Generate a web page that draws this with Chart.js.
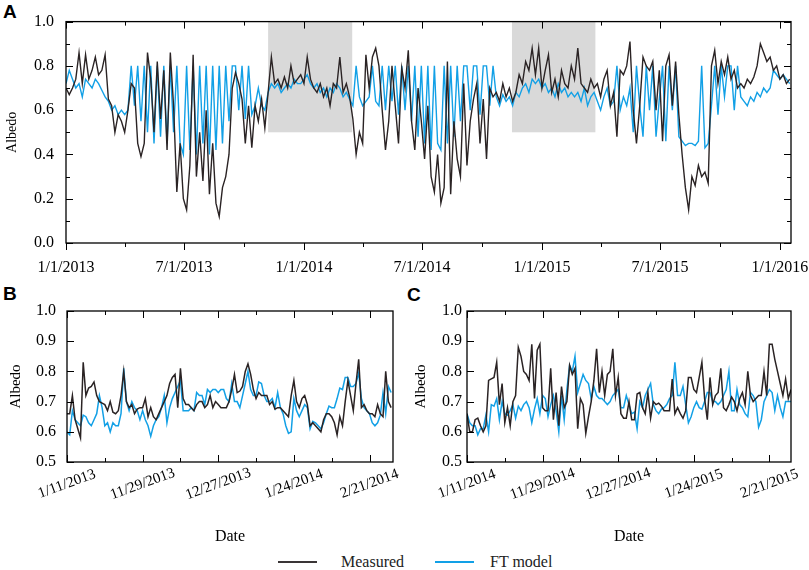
<!DOCTYPE html>
<html lang="en">
<head>
<meta charset="UTF-8">
<title>Albedo: measured vs FT model</title>
<script src="https://cdn.jsdelivr.net/npm/chart.js@4"></script>
<style>
  body { margin: 0; background: #fff; width: 809px; height: 570px; position: relative; overflow: hidden; font-family: "Liberation Serif", serif; }
  canvas { position: absolute; }
  .tag { position: absolute; font: bold 19px "Liberation Sans", Arial, sans-serif; color: #000; line-height: 19px; }
  .key { position: absolute; height: 2px; top: 561px; width: 39px; }
  .keytext { position: absolute; top: 552px; font-size: 16px; line-height: 20px; color: #222; }
</style>
</head>
<body>
<div class="tag" style="left:3px;top:2px">A</div>
<div class="tag" style="left:3px;top:284px">B</div>
<div class="tag" style="left:407px;top:285px">C</div>
<canvas id="chartA" width="809" height="280" style="left:0;top:0"></canvas>
<canvas id="chartB" width="405" height="270" style="left:0;top:280px"></canvas>
<canvas id="chartC" width="404" height="270" style="left:405px;top:280px"></canvas>
<div class="key" style="left:278px;background:#3a3536"></div>
<div class="keytext" style="left:341px">Measured</div>
<div class="key" style="left:435px;background:#12a0e6"></div>
<div class="keytext" style="left:490px">FT model</div>
<script>
// panel A: one value every 5 days from 1/1/2013
const stepA = 5
const measuredA = [
  0.70,0.67,0.70,0.74,0.86,0.72,0.85,0.74,0.78,0.84,0.76,0.78,
  0.85,0.65,0.62,0.50,0.58,0.55,0.50,0.60,0.72,0.70,0.45,0.39,
  0.45,0.86,0.74,0.50,0.82,0.56,0.78,0.42,0.86,0.62,0.23,0.45,
  0.20,0.15,0.35,0.85,0.30,0.50,0.28,0.60,0.22,0.45,0.18,0.12,
  0.25,0.30,0.40,0.70,0.77,0.72,0.65,0.45,0.62,0.43,0.62,0.55,
  0.65,0.52,0.68,0.84,0.72,0.74,0.70,0.75,0.70,0.80,0.72,0.74,
  0.76,0.72,0.84,0.74,0.70,0.68,0.72,0.66,0.70,0.62,0.72,0.70,
  0.84,0.68,0.72,0.66,0.56,0.40,0.50,0.45,0.85,0.70,0.84,0.88,
  0.80,0.60,0.42,0.55,0.80,0.62,0.45,0.79,0.70,0.87,0.55,0.42,
  0.70,0.55,0.38,0.62,0.30,0.23,0.40,0.18,0.25,0.82,0.22,0.55,
  0.38,0.30,0.72,0.35,0.55,0.65,0.72,0.45,0.65,0.38,0.70,0.66,
  0.68,0.64,0.72,0.66,0.70,0.64,0.68,0.76,0.72,0.82,0.78,0.88,
  0.76,0.88,0.70,0.78,0.85,0.68,0.74,0.66,0.78,0.72,0.70,0.80,
  0.74,0.88,0.72,0.70,0.68,0.74,0.70,0.72,0.66,0.74,0.78,0.62,
  0.68,0.48,0.78,0.76,0.80,0.91,0.60,0.45,0.62,0.84,0.80,0.78,
  0.82,0.60,0.78,0.46,0.80,0.85,0.62,0.82,0.58,0.40,0.25,0.15,
  0.30,0.26,0.35,0.30,0.32,0.27,0.80,0.87,0.72,0.82,0.76,0.84,
  0.74,0.78,0.70,0.72,0.70,0.74,0.72,0.75,0.80,0.90,0.86,0.82,
  0.84,0.78,0.80,0.74,0.76,0.72,0.74
]
const modelA = [
  0.72,0.78,0.74,0.70,0.72,0.66,0.74,0.72,0.70,0.74,0.72,0.69,
  0.66,0.64,0.60,0.62,0.58,0.60,0.58,0.60,0.80,0.62,0.80,0.55,
  0.80,0.50,0.80,0.45,0.80,0.48,0.80,0.45,0.80,0.50,0.80,0.45,
  0.40,0.80,0.42,0.80,0.40,0.80,0.45,0.80,0.40,0.80,0.42,0.80,
  0.45,0.80,0.55,0.80,0.80,0.60,0.80,0.56,0.80,0.58,0.62,0.70,
  0.62,0.60,0.68,0.72,0.70,0.72,0.68,0.70,0.72,0.70,0.74,0.72,
  0.72,0.74,0.76,0.72,0.70,0.72,0.68,0.70,0.66,0.70,0.68,0.72,
  0.70,0.66,0.68,0.65,0.62,0.80,0.66,0.62,0.64,0.66,0.80,0.64,
  0.62,0.80,0.60,0.80,0.64,0.80,0.58,0.80,0.60,0.80,0.55,0.80,
  0.48,0.80,0.45,0.80,0.42,0.80,0.45,0.42,0.80,0.45,0.80,0.48,
  0.80,0.55,0.80,0.80,0.60,0.80,0.80,0.58,0.80,0.80,0.62,0.80,
  0.66,0.62,0.67,0.64,0.66,0.62,0.68,0.66,0.70,0.72,0.68,0.74,
  0.72,0.74,0.70,0.72,0.68,0.70,0.66,0.72,0.68,0.70,0.66,0.68,
  0.66,0.68,0.64,0.70,0.62,0.66,0.68,0.64,0.60,0.66,0.70,0.62,
  0.64,0.80,0.60,0.66,0.62,0.70,0.50,0.80,0.62,0.48,0.80,0.60,
  0.80,0.48,0.65,0.80,0.46,0.80,0.60,0.80,0.48,0.46,0.44,0.45,
  0.45,0.44,0.46,0.80,0.43,0.45,0.62,0.80,0.58,0.80,0.66,0.80,
  0.80,0.60,0.80,0.66,0.64,0.62,0.66,0.64,0.68,0.66,0.70,0.68,
  0.70,0.78,0.76,0.74,0.76,0.74,0.72
]
// days since 1/1/2013
const ticksA = [0, 181, 365, 546, 730, 911, 1095]
const tickLabelsA = ['1/1/2013', '7/1/2013', '1/1/2014', '7/1/2014', '1/1/2015', '7/1/2015', '1/1/2016']
const minorA = [90, 273, 455, 638, 820, 1003]
const shadeA = [[310, 439], [684, 812]]

// panels B and C: daily values, day 0 = 11/1
const measuredB = [
  0.66,0.66,0.72,0.64,0.61,0.58,0.83,0.72,0.745,0.75,
  0.765,0.72,0.70,0.695,0.69,0.67,0.70,0.665,0.66,0.67,
  0.72,0.80,0.70,0.68,0.69,0.66,0.675,0.68,0.68,0.71,
  0.65,0.68,0.65,0.64,0.66,0.68,0.70,0.72,0.76,0.78,
  0.79,0.68,0.81,0.71,0.69,0.69,0.68,0.67,0.69,0.70,
  0.70,0.68,0.69,0.72,0.68,0.70,0.69,0.68,0.68,0.68,
  0.70,0.74,0.79,0.73,0.735,0.75,0.80,0.825,0.79,0.74,
  0.71,0.73,0.72,0.72,0.72,0.69,0.70,0.675,0.68,0.68,
  0.67,0.66,0.65,0.72,0.77,0.70,0.68,0.71,0.72,0.69,
  0.62,0.63,0.62,0.61,0.60,0.64,0.66,0.66,0.65,0.63,
  0.59,0.65,0.62,0.70,0.77,0.72,0.67,0.76,0.84,0.68,
  0.69,0.67,0.66,0.66,0.65,0.69,0.66,0.65,0.80,0.70,
  0.68
]
const modelB = [
  0.60,0.59,0.67,0.64,0.63,0.62,0.655,0.65,0.63,0.62,
  0.64,0.66,0.72,0.68,0.62,0.63,0.60,0.63,0.62,0.62,
  0.66,0.81,0.70,0.67,0.70,0.68,0.67,0.64,0.67,0.64,
  0.62,0.585,0.62,0.64,0.65,0.68,0.72,0.63,0.68,0.71,
  0.73,0.75,0.77,0.67,0.67,0.67,0.68,0.67,0.73,0.72,
  0.72,0.69,0.74,0.73,0.74,0.74,0.73,0.74,0.74,0.71,
  0.70,0.76,0.70,0.70,0.68,0.72,0.76,0.80,0.74,0.72,
  0.72,0.765,0.76,0.72,0.70,0.70,0.71,0.68,0.73,0.68,
  0.66,0.62,0.595,0.60,0.71,0.67,0.65,0.67,0.69,0.68,
  0.61,0.635,0.63,0.62,0.61,0.63,0.66,0.685,0.68,0.68,
  0.71,0.745,0.74,0.78,0.78,0.75,0.75,0.76,0.795,0.71,
  0.68,0.67,0.66,0.63,0.62,0.63,0.655,0.73,0.66,0.75,
  0.73
]
const measuredC = [
  0.66,0.60,0.60,0.64,0.645,0.62,0.60,0.62,0.77,0.775,
  0.78,0.83,0.69,0.76,0.63,0.68,0.62,0.70,0.72,0.88,
  0.85,0.80,0.79,0.77,0.89,0.71,0.87,0.89,0.68,0.67,
  0.67,0.81,0.64,0.73,0.62,0.75,0.68,0.70,0.82,0.79,
  0.81,0.61,0.71,0.69,0.595,0.65,0.70,0.77,0.875,0.73,
  0.80,0.72,0.79,0.80,0.875,0.72,0.78,0.66,0.645,0.645,
  0.70,0.64,0.64,0.725,0.73,0.68,0.66,0.73,0.645,0.70,
  0.69,0.695,0.685,0.67,0.67,0.67,0.775,0.66,0.68,0.66,
  0.645,0.67,0.78,0.78,0.74,0.73,0.78,0.83,0.71,0.64,
  0.78,0.69,0.72,0.73,0.81,0.68,0.67,0.69,0.715,0.70,
  0.67,0.71,0.73,0.69,0.80,0.72,0.70,0.71,0.72,0.72,
  0.80,0.72,0.89,0.89,0.84,0.80,0.76,0.72,0.775,0.71,
  0.74
]
const modelC = [
  0.66,0.63,0.62,0.62,0.59,0.61,0.61,0.655,0.60,0.69,
  0.685,0.71,0.64,0.70,0.66,0.655,0.67,0.69,0.645,0.685,
  0.67,0.69,0.70,0.68,0.63,0.675,0.71,0.66,0.72,0.71,
  0.65,0.69,0.72,0.67,0.60,0.72,0.64,0.74,0.82,0.80,
  0.85,0.73,0.76,0.79,0.77,0.76,0.71,0.75,0.72,0.71,
  0.71,0.70,0.69,0.70,0.72,0.73,0.74,0.68,0.68,0.72,
  0.69,0.66,0.665,0.61,0.70,0.68,0.72,0.74,0.76,0.69,
  0.67,0.66,0.675,0.68,0.69,0.71,0.72,0.83,0.72,0.72,
  0.75,0.69,0.63,0.65,0.68,0.70,0.68,0.675,0.70,0.73,
  0.73,0.70,0.70,0.69,0.70,0.72,0.74,0.80,0.67,0.67,
  0.74,0.69,0.68,0.66,0.65,0.73,0.72,0.70,0.615,0.64,
  0.70,0.72,0.74,0.73,0.67,0.72,0.68,0.65,0.70,0.70,
  0.70
]
const ticksBC = [0, 28, 56, 84, 112]
const minorBC = [14, 42, 70, 98]
const tickLabelsB = ['1/11/2013', '11/29/2013', '12/27/2013', '1/24/2014', '2/21/2014']
const tickLabelsC = ['1/11/2014', '11/29/2014', '12/27/2014', '1/24/2015', '2/21/2015']

const yTicksA = [0, 0.2, 0.4, 0.6, 0.8, 1.0]
const yMinorA = [0.1, 0.3, 0.5, 0.7, 0.9]
const yTicksBC = [0.5, 0.6, 0.7, 0.8, 0.9, 1.0]

const BLACK = '#2a2324'
const BLUE = '#12a0e6'
const SERIF = '"Liberation Serif", "Times New Roman", serif'

// box, inward/outward ticks, shading and date labels
const frame = {
  id: 'frame',
  beforeDatasetsDraw(chart, args, o) {
    const {ctx, scales: {x, y}} = chart
    ctx.save()
    ctx.fillStyle = '#d9d9d9'
    ;(o.shade || []).forEach(([d0, d1]) => {
      const x0 = x.getPixelForValue(d0), x1 = x.getPixelForValue(d1)
      const y0 = y.getPixelForValue(1), y1 = y.getPixelForValue(0.5)
      ctx.fillRect(x0, y0, x1 - x0, y1 - y0)
    })
    ctx.restore()
  },
  afterDraw(chart, args, o) {
    const {ctx, chartArea: a, scales: {x, y}} = chart
    ctx.save()
    ctx.strokeStyle = '#000'
    ctx.lineWidth = 1.3
    ctx.strokeRect(a.left, a.top, a.right - a.left, a.bottom - a.top)
    ctx.lineWidth = 1
    ctx.beginPath()
    const xt = (v, len) => {
      const px = Math.round(x.getPixelForValue(v)) + 0.5
      const dir = o.outward ? 1 : -1
      ctx.moveTo(px, a.bottom); ctx.lineTo(px, a.bottom + dir * len)
      ctx.moveTo(px, a.top); ctx.lineTo(px, a.top + len)
    }
    const yt = (v, len) => {
      const py = Math.round(y.getPixelForValue(v)) + 0.5
      ctx.moveTo(a.left, py); ctx.lineTo(a.left + len, py)
      if (o.rightTicks) { ctx.moveTo(a.right, py); ctx.lineTo(a.right - len, py) }
    }
    o.major.forEach(v => xt(v, 7))
    o.minor.forEach(v => xt(v, 4))
    o.yMajor.forEach(v => yt(v, 7))
    ;(o.yMinor || []).forEach(v => yt(v, 4))
    ctx.stroke()

    ctx.fillStyle = '#000'
    ctx.font = o.labelFont
    ctx.textAlign = 'center'
    ctx.textBaseline = 'middle'
    o.major.forEach((v, i) => {
      ctx.save()
      ctx.translate(x.getPixelForValue(v), a.bottom + o.labelGap)
      ctx.rotate(-o.rotate * Math.PI / 180)
      ctx.fillText(o.labels[i], 0, 0)
      ctx.restore()
    })
    ctx.restore()
  }
}

const pts = (arr, step) => arr.map((v, i) => ({x: i * step, y: v}))

function makeChart(id, cfg) {
  return new Chart(document.getElementById(id), {
    type: 'line',
    data: {
      datasets: [
        {label: 'Measured', data: pts(cfg.measured, cfg.step), borderColor: BLACK, borderWidth: cfg.lw},
        {label: 'FT model', data: pts(cfg.model, cfg.step), borderColor: BLUE, borderWidth: cfg.lw}
      ]
    },
    options: {
      responsive: false,
      animation: false,
      layout: {padding: {left: 0, right: cfg.padRight, top: cfg.padTop, bottom: 0}},
      elements: {point: {radius: 0}, line: {tension: 0}},
      plugins: {
        legend: {display: false},
        tooltip: {enabled: false},
        frame: cfg.frame
      },
      scales: {
        x: {
          type: 'linear', min: 0, max: cfg.xMax,
          ticks: {display: false},
          grid: {display: false},
          border: {display: false},
          title: cfg.xTitle ? {display: true, text: cfg.xTitle, color: '#000', font: {family: SERIF, size: 16}, padding: {top: 0, bottom: 4}} : {display: false},
          afterFit: s => { s.height = cfg.xHeight }
        },
        y: {
          min: cfg.yMin, max: 1,
          afterBuildTicks: s => { s.ticks = cfg.yTicks.map(v => ({value: v})) },
          ticks: {color: '#000', font: {family: SERIF, size: 16}, padding: cfg.yPad, callback: v => v.toFixed(1)},
          grid: {display: false, drawTicks: false},
          border: {display: false},
          title: {display: true, text: 'Albedo', color: '#000', font: {family: SERIF, size: cfg.yTitleSize}, padding: {top: cfg.yTitlePad, bottom: 0}},
          afterFit: s => { s.width = cfg.yWidth }
        }
      }
    },
    plugins: [frame]
  })
}

function drawAll() {
  makeChart('chartA', {
    measured: measuredA, model: modelA, step: stepA, lw: 1.4,
    xMax: 1112, yMin: 0, yTicks: yTicksA,
    padRight: 18, padTop: 16, xHeight: 37, yWidth: 66, yPad: 12,
    yTitleSize: 14, yTitlePad: 4,
    frame: {shade: shadeA, major: ticksA, minor: minorA, labels: tickLabelsA, outward: true,
            yMajor: yTicksA, yMinor: yMinorA, rightTicks: true, rotate: 0, labelGap: 25,
            labelFont: '16px ' + SERIF}
  })
  makeChart('chartB', {
    measured: measuredB, model: modelB, step: 1, lw: 1.5,
    xMax: 120.7, yMin: 0.5, yTicks: yTicksBC, xTitle: 'Date',
    padRight: 12, padTop: 31, xHeight: 88, yWidth: 67, yPad: 11,
    yTitleSize: 15, yTitlePad: 7,
    frame: {major: ticksBC, minor: minorBC, labels: tickLabelsB, outward: false,
            yMajor: yTicksBC, rightTicks: false, rotate: 20, labelGap: 22,
            labelFont: '15px ' + SERIF}
  })
  makeChart('chartC', {
    measured: measuredC, model: modelC, step: 1, lw: 1.5,
    xMax: 120, yMin: 0.5, yTicks: yTicksBC, xTitle: 'Date',
    padRight: 18, padTop: 31, xHeight: 88, yWidth: 62, yPad: 5,
    yTitleSize: 15, yTitlePad: 7,
    frame: {major: ticksBC, minor: minorBC, labels: tickLabelsC, outward: false,
            yMajor: yTicksBC, rightTicks: false, rotate: 20, labelGap: 22,
            labelFont: '15px ' + SERIF}
  })
}

// canvas text needs the serif face loaded first
document.fonts.load('16px "Liberation Serif"').then(drawAll, drawAll)
</script>
</body>
</html>
